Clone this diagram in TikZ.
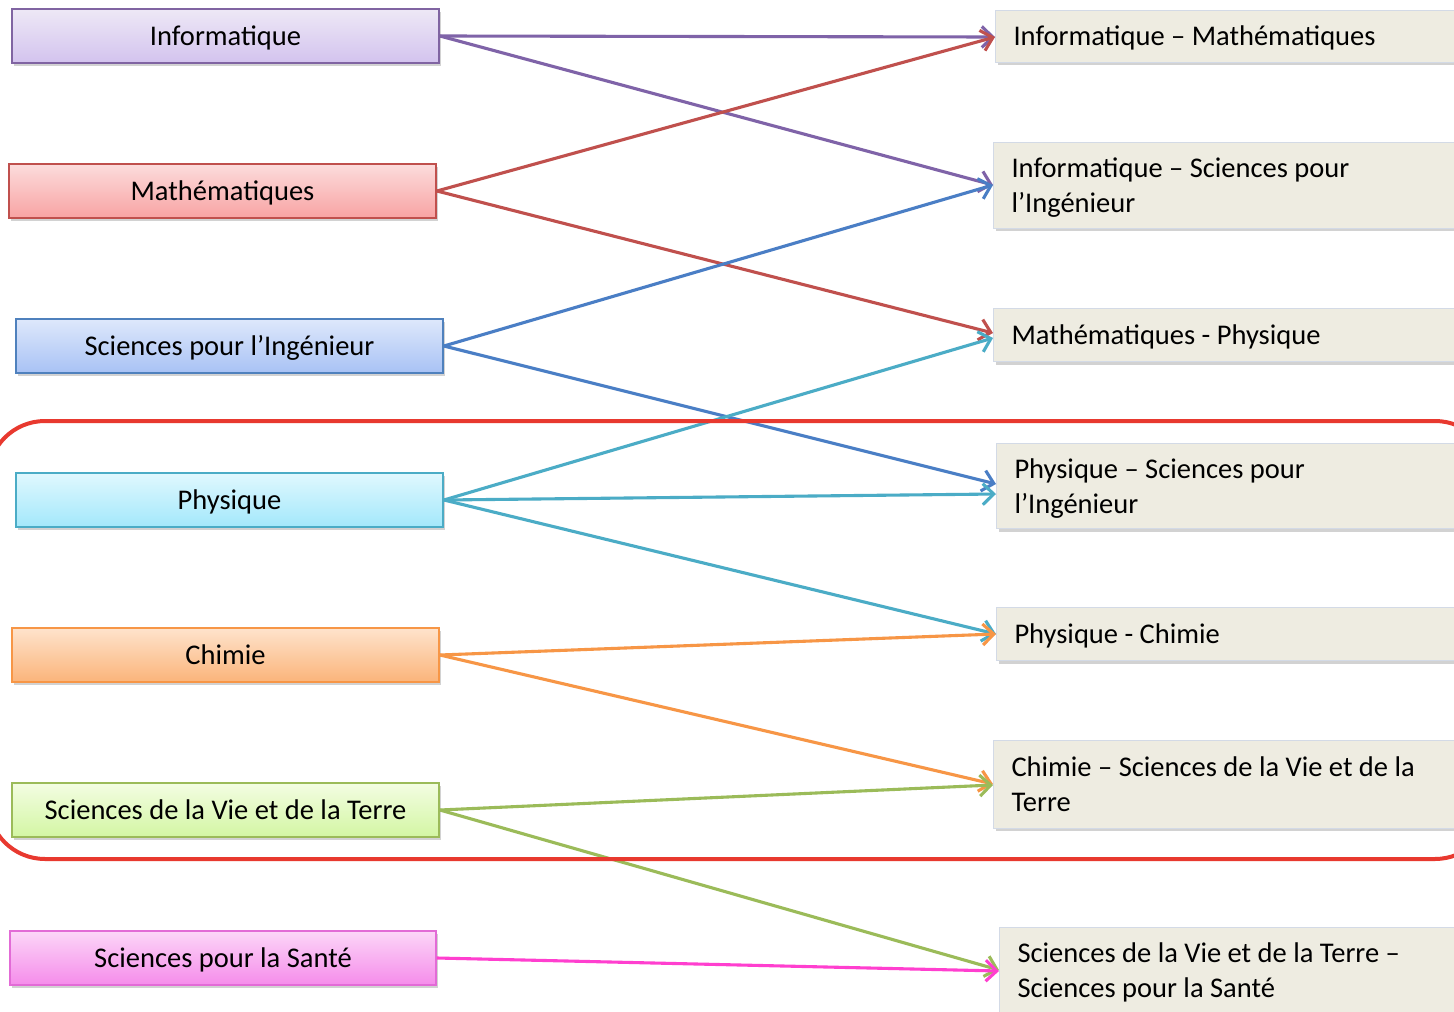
\documentclass[tikz,border=0pt]{standalone}
\usepackage{fontspec}
\setmainfont{Carlito}
\usetikzlibrary{arrows.meta,shadows}
\definecolor{infoD}{HTML}{8064A2}\definecolor{infoT}{HTML}{EEE8F6}\definecolor{infoB}{HTML}{D3C3EE}\definecolor{infoA}{HTML}{7F63A8}
\definecolor{mathD}{HTML}{C0504D}\definecolor{mathT}{HTML}{FCDCDC}\definecolor{mathB}{HTML}{F8A3A3}\definecolor{mathA}{HTML}{C0504D}
\definecolor{spiD}{HTML}{4F81BD}\definecolor{spiT}{HTML}{DEE8FB}\definecolor{spiB}{HTML}{A8C2F5}\definecolor{spiA}{HTML}{4A7EC5}
\definecolor{phyD}{HTML}{4BACC6}\definecolor{phyT}{HTML}{E0F8FE}\definecolor{phyB}{HTML}{A3E8FB}\definecolor{phyA}{HTML}{4BACC6}
\definecolor{chiD}{HTML}{F79646}\definecolor{chiT}{HTML}{FEE3CC}\definecolor{chiB}{HTML}{FBB47A}\definecolor{chiA}{HTML}{F79646}
\definecolor{svtD}{HTML}{9BBB59}\definecolor{svtT}{HTML}{F3FDE2}\definecolor{svtB}{HTML}{D3F6A3}\definecolor{svtA}{HTML}{9BBB59}
\definecolor{sanD}{HTML}{E26BD6}\definecolor{sanT}{HTML}{FCD6F8}\definecolor{sanB}{HTML}{F58CEA}\definecolor{sanA}{HTML}{FF3FCF}
\definecolor{rFill}{HTML}{EEECE1}\definecolor{rDraw}{HTML}{D3DAE6}
\definecolor{frameR}{HTML}{E8392F}
\begin{document}
\begin{tikzpicture}[x=1pt,y=-1pt,
  lbox/.style={draw=#1D, top color=#1T, bottom color=#1B, line width=1.8pt,
    minimum width=427pt, minimum height=54pt, inner sep=0pt,
    text height=24pt, text depth=6pt,
    font=\fontsize{28.5}{35}\selectfont,
    drop shadow={shadow xshift=2pt,shadow yshift=-3pt,opacity=0.35}},
  rbox/.style={draw=rDraw, fill=rFill, line width=1pt, anchor=west,
    minimum height=#1, text width=440pt, inner xsep=18pt, inner ysep=0pt, align=flush left,
    text depth=0pt,
    font=\fontsize{28.5}{35}\selectfont,
    drop shadow={shadow xshift=2pt,shadow yshift=-3pt,opacity=0.35}},
  two/.style={text depth=34pt},
  arr/.style={draw=#1, line width=3.1pt, -{Straight Barb[length=11pt,width=21pt]}}]
\useasboundingbox (0,0) rectangle (1454,1012);
\clip (0,0) rectangle (1454,1012);
\fill[white] (0,0) rectangle (1454,1012);
% left boxes
\node[lbox=info] (inf) at (225.5,36) {Informatique};
\node[lbox=math] (mat) at (222.5,191) {Mathématiques};
\node[lbox=spi] (spi) at (229.5,346) {Sciences pour l’Ingénieur};
\node[lbox=phy] (phy) at (229.5,500) {Physique};
\node[lbox=chi] (chi) at (225.5,655) {Chimie};
\node[lbox=svt] (svt) at (225.5,810) {Sciences de la Vie et de la Terre};
\node[lbox=san, minimum width=426pt] (san) at (223,958) {Sciences pour la Santé};
% right boxes
\node[rbox=52pt] (im) at (995,36) {Informatique – Mathématiques};
\node[rbox=86pt, two] (is) at (993,185) {Informatique – Sciences pour\\l’Ingénieur};
\node[rbox=53pt] (mp) at (993,335) {Mathématiques - Physique};
\node[rbox=85pt, two] (ps) at (996,486) {Physique – Sciences pour\\l’Ingénieur};
\node[rbox=53pt] (pc) at (996,634) {Physique - Chimie};
\node[rbox=88pt, two] (cs) at (993,784) {Chimie – Sciences de la Vie et de la\\Terre};
\node[rbox=86pt, two] (ss) at (999,970) {Sciences de la Vie et de la Terre –\\Sciences pour la Santé};
% arrows
\draw[arr=infoA] (inf.east) -- ([yshift=-1pt]im.west);
\draw[arr=infoA] (inf.east) -- (is.west);
\draw[arr=mathA] (mat.east) -- ([yshift=-1pt]im.west);
\draw[arr=mathA] (mat.east) -- ([yshift=2pt]mp.west);
\draw[arr=spiA] (spi.east) -- (is.west);
\draw[arr=spiA] (spi.east) -- ([yshift=2pt]ps.west);
\draw[arr=phyA] (phy.east) -- ([yshift=-3pt]mp.west);
\draw[arr=phyA] (phy.east) -- ([yshift=-8pt]ps.west);
\draw[arr=phyA] (phy.east) -- (pc.west);
\draw[arr=chiA] (chi.east) -- (pc.west);
\draw[arr=chiA] (chi.east) -- (cs.west);
\draw[arr=svtA] (svt.east) -- ([yshift=-1pt]cs.west);
\draw[arr=svtA] (svt.east) -- (ss.west);
\draw[arr=sanA] (san.east) -- ([yshift=-1pt]ss.west);
% red frame
\draw[frameR, line width=4pt, rounded corners=57pt] (-12,421) rectangle (1492,859);
\end{tikzpicture}
\end{document}
